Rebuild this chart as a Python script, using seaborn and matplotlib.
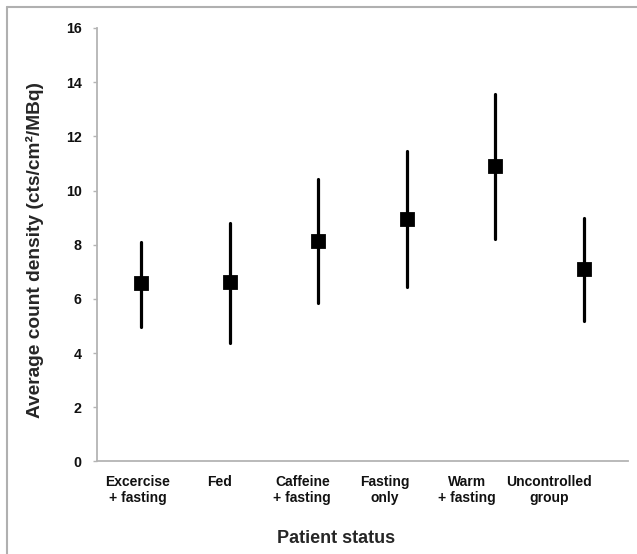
import pandas as pd
import seaborn as sns
import matplotlib.pyplot as plt
from matplotlib.lines import Line2D

# Values: centre square and ends of each bar
statuses = ['Excercise\n+ fasting', 'Fed', 'Caffeine\n+ fasting',
            'Fasting\nonly', 'Warm\n+ fasting', 'Uncontrolled\ngroup']
centre = [6.6, 6.62, 8.15, 8.96, 10.9, 7.1]
low = [4.97, 4.37, 5.85, 6.45, 8.2, 5.17]
high = [8.1, 8.82, 10.42, 11.45, 13.57, 8.98]

# long table: median is the centre, min/max are the bar ends
rows = []
for s, c, lo, hi in zip(statuses, centre, low, high):
    for v in (lo, c, hi):
        rows.append({'status': s, 'value': v})
df = pd.DataFrame(rows)

sns.set_style('white')
plt.rcParams['font.family'] = ['Liberation Sans', 'DejaVu Sans']

fig = plt.figure(figsize=(6.37, 5.54), dpi=100)
ax = fig.add_axes([0.1523, 0.167, 0.8336, 0.7825])

sns.pointplot(data=df, x='status', y='value', order=statuses,
              estimator='median', errorbar=('pi', 100),
              linestyle='none', marker='s', markersize=9,
              color='black', err_kws={'linewidth': 2.3}, ax=ax)

ax.set_ylim(0, 16)
ax.set_xlim(-0.5, 5.5)
ax.set_yticks(range(0, 17, 2))
# in the original the category labels sit a little tighter than the marks
ax.set_xticks([-0.04 + 0.93 * i for i in range(len(statuses))], statuses)

spine_col = '#b4b4b4'
for side in ['top', 'right']:
    ax.spines[side].set_visible(False)
for side in ['left', 'bottom']:
    ax.spines[side].set_color(spine_col)
    ax.spines[side].set_linewidth(1.3)

ax.tick_params(axis='y', left=True, length=3, width=1, color=spine_col,
               pad=8, labelsize=10.3)
ax.tick_params(axis='x', bottom=False, pad=6, labelsize=10)
for lab in ax.get_yticklabels() + ax.get_xticklabels():
    lab.set_fontweight('bold')
    lab.set_color('#111111')

ax.set_xlabel('Patient status', fontsize=13, fontweight='bold')
ax.set_ylabel('Average count density (cts/cm²/MBq)', fontsize=13.8,
              fontweight='bold')
ax.xaxis.set_label_coords(0.45, -0.158)
ax.yaxis.set_label_coords(-0.10, 0.488)

# grey frame round the figure (top and left edges visible)
frame_col = '#b0b0b0'
fig.add_artist(Line2D([7 / 637, 1.0], [1 - 7 / 554, 1 - 7 / 554],
                      transform=fig.transFigure, color=frame_col, linewidth=1.5))
fig.add_artist(Line2D([7 / 637, 7 / 637], [0.0, 1 - 7 / 554],
                      transform=fig.transFigure, color=frame_col, linewidth=1.5))

fig.savefig('out.png', dpi=100, facecolor='white')
